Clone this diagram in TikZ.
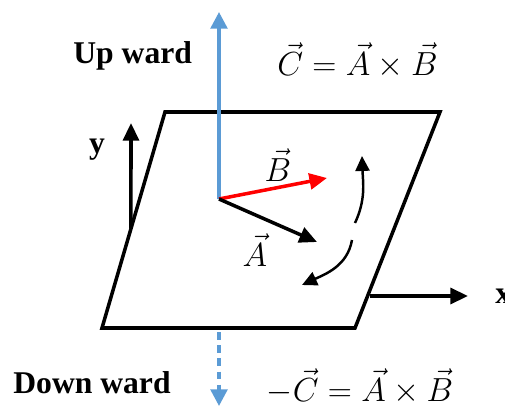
\RequirePackage{fix-cm}
\documentclass[tikz,border=0pt]{standalone}
\usepackage{fontspec}
\newfontfamily\tagfont{Liberation Serif}
\usetikzlibrary{arrows.meta,calc}
\definecolor{upblue}{RGB}{91,155,213}

\begin{document}
\begin{tikzpicture}[
    plane/.style={line width=2pt, line join=miter},
    axis/.style={line width=2pt, -{Triangle[length=10pt,width=9pt]}},
    vecarrow/.style={line width=2pt, -{Triangle[length=10pt,width=9pt]}},
    spin/.style={line width=1.4pt, -{Triangle[length=8.5pt,width=8pt]}},
    normal/.style={upblue, line width=2pt, -{Triangle[length=9.5pt,width=9.5pt]}},
    tag/.style={font=\tagfont\bfseries\fontsize{18}{20}\selectfont, inner sep=0pt},
    eq/.style={font=\fontsize{19}{23}\selectfont, inner sep=0pt}]
    \useasboundingbox (0,0) rectangle (10.1,8.16);

    % Ebene
    \coordinate (BL) at (2.04,1.60);
    \coordinate (BR) at (7.10,1.60);
    \coordinate (TR) at (8.80,5.92);
    \coordinate (TL) at (3.30,5.92);
    \draw[plane] (BL) -- (BR) -- (TR) -- (TL) -- cycle;

    % Achsen
    \coordinate (yfoot) at ($(BL)!0.46!(TL)$);
    \coordinate (ytip) at (2.62,5.70);
    \draw[axis] (yfoot) -- (ytip);
    \node[tag, anchor=base] (ylab) at (1.94,5.10) {y};
    \coordinate (xfoot) at (7.40,2.24);
    \coordinate (xtip) at (9.36,2.24);
    \draw[axis] (xfoot) -- (xtip);
    \node[tag, anchor=west] (xlab) at (9.90,2.24) {x};

    % Normale C und -C
    \coordinate (O) at (4.38,4.18);
    \coordinate (Ctip) at (4.38,7.92);
    \draw[normal] (O) -- (Ctip);
    \coordinate (Dfoot) at (4.38,1.52);
    \coordinate (Dtip) at (4.38,0.04);
    \draw[normal, dash pattern=on 4.5pt off 3pt] (Dfoot) -- (Dtip);

    % Vektoren A und B
    \coordinate (Btip) at (6.54,4.60);
    \coordinate (Atip) at (6.34,3.32);
    \draw[vecarrow, red] (O) -- (Btip);
    \draw[vecarrow] (O) -- (Atip);
    \node[eq] (Blab) at (5.56,4.86) {$\vec{B}$};
    \node[eq] (Alab) at (5.10,3.16) {$\vec{A}$};

    % Drehpfeile
    \coordinate (s1) at (7.10,3.70);
    \coordinate (e1) at (7.24,5.04);
    \draw[spin] (s1) to[out=65, in=-88] (e1);
    \coordinate (s2) at (7.04,3.36);
    \coordinate (e2) at (6.04,2.46);
    \draw[spin] (s2) to[out=-100, in=25] (e2);

    % Beschriftungen
    \node[tag, anchor=base west] (up) at (1.46,6.90) {Up ward};
    \node[tag, anchor=base west] (down) at (0.26,0.30) {Down ward};
    \node[eq, anchor=base] (equp) at (7.15,6.66) {$\vec{C} = \vec{A} \times \vec{B}$};
    \node[eq, anchor=base] (eqdown) at (7.20,0.14) {$-\vec{C} = \vec{A} \times \vec{B}$};
\end{tikzpicture}
\end{document}
